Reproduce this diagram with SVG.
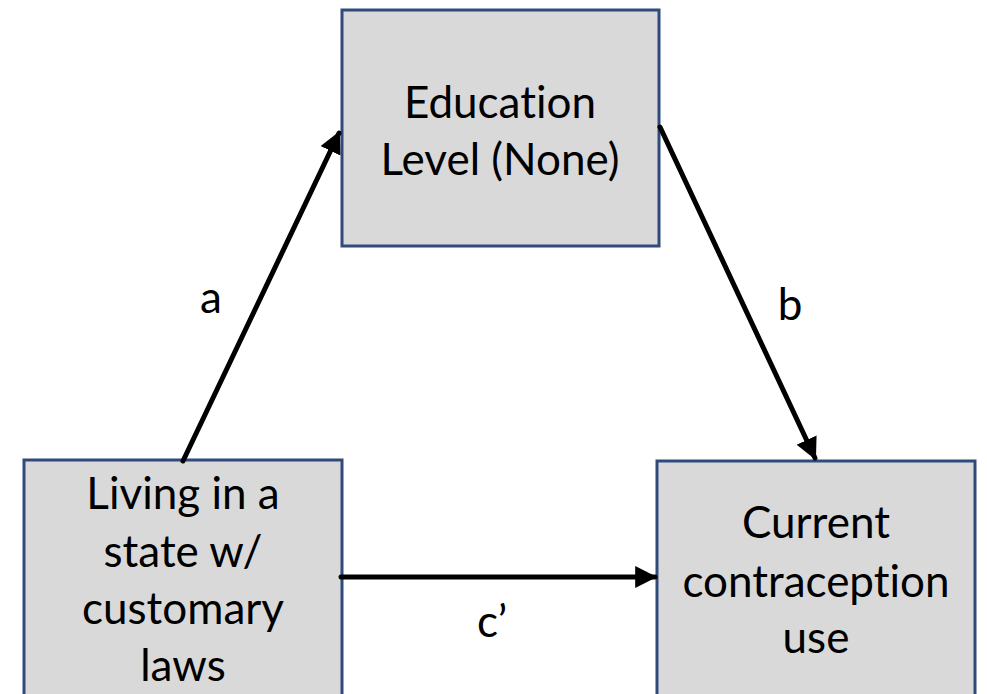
<svg xmlns="http://www.w3.org/2000/svg" width="987" height="694" viewBox="0 0 987 694">
<style>
.box{fill:#d9d9d9;stroke:#2f4b7c;stroke-width:3}
.t{font-family:Lato,"Liberation Sans",sans-serif;font-size:44px;fill:#000;text-anchor:middle;font-variant-ligatures:none;font-feature-settings:"liga" 0,"dlig" 0}
.edge{stroke:#000;stroke-width:5;fill:none;stroke-linecap:round}
</style>
<defs>
<marker id="ah" viewBox="0 0 10 10" refX="9" refY="5" markerWidth="4.4" markerHeight="4.4" orient="auto" markerUnits="strokeWidth">
<path d="M0,0 L10,5 L0,10 z" fill="#000"/>
</marker>
</defs>
<rect width="987" height="694" fill="#fff"/>
<g id="edu">
<rect class="box" x="342" y="10" width="317" height="236"/>
<text class="t" x="500" y="118">Education</text>
<text class="t" x="500" y="175">Level (None)</text>
</g>
<g id="living">
<rect class="box" x="24" y="460" width="318" height="250"/>
<text class="t" x="183" y="509">Living in a</text>
<text class="t" x="183" y="567">state w/</text>
<text class="t" x="183" y="624">customary</text>
<text class="t" x="183" y="681">laws</text>
</g>
<g id="current">
<rect class="box" x="657" y="461" width="318" height="250"/>
<text class="t" x="816" y="538">Current</text>
<text class="t" x="816" y="597">contraception</text>
<text class="t" x="816" y="653">use</text>
</g>
<g id="connectors">
<line class="edge" x1="183" y1="461" x2="339" y2="133" marker-end="url(#ah)"/>
<line class="edge" x1="660" y1="127" x2="815" y2="458" marker-end="url(#ah)"/>
<line class="edge" x1="341" y1="577" x2="655" y2="577" marker-end="url(#ah)"/>
<text class="t" x="211" y="313">a</text>
<text class="t" x="790" y="320">b</text>
<text class="t" x="492" y="637">c’</text>
</g>
</svg>
